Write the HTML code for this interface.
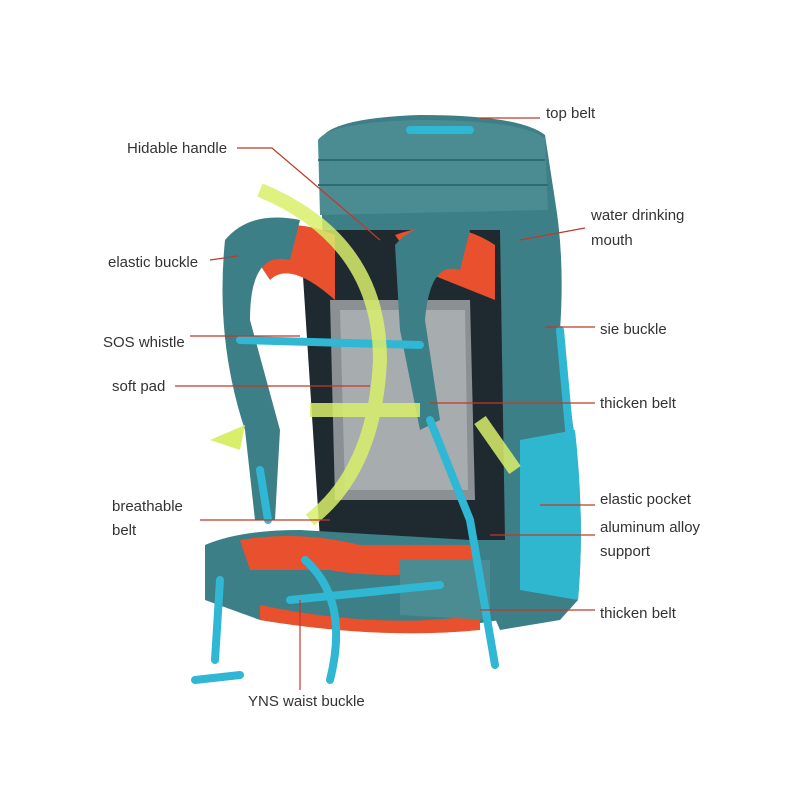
<!DOCTYPE html>
<html><head><meta charset="utf-8"><style>
html,body{margin:0;padding:0;background:#fff}
svg{display:block}
text{font-family:"Liberation Sans",sans-serif;font-size:15px;fill:#333}
</style></head><body>
<svg width="800" height="800" viewBox="0 0 800 800">
<rect width="800" height="800" fill="#fff"/>
<!-- main body -->
<path d="M320 140 Q330 118 420 115 Q520 115 545 135 L555 200 Q565 260 560 330 L575 440 Q585 520 578 600 L560 620 L500 630 L470 560 L330 520 Z" fill="#3d7f86"/>
<path d="M318 140 Q330 122 420 120 Q520 120 545 138 L548 210 L320 215 Z" fill="#4a8c92"/>
<path d="M318 160 L545 160 M318 185 L548 185" stroke="#2f6c72" stroke-width="2"/>
<!-- back panel dark -->
<path d="M300 230 L500 230 L505 540 L320 540 Z" fill="#1f2a30"/>
<!-- orange shoulder padding -->
<path d="M240 235 Q290 215 335 235 L335 300 Q290 260 270 280 Z" fill="#e8502e"/>
<path d="M395 235 Q450 215 495 245 L495 300 L420 270 Z" fill="#e8502e"/>
<!-- mesh -->
<path d="M330 300 L470 300 L475 500 L335 500 Z" fill="#8a9094"/>
<path d="M340 310 L465 310 L468 490 L345 490 Z" fill="#a7acaf"/>
<!-- left shoulder strap -->
<path d="M225 240 Q250 210 300 220 L290 260 Q250 250 250 320 L280 430 L275 520 L255 520 L245 430 Q215 340 225 240 Z" fill="#3d7f86"/>
<!-- right shoulder strap -->
<path d="M395 245 Q420 215 470 230 L460 270 Q430 260 425 320 L440 420 L420 430 L400 330 Z" fill="#3d7f86"/>
<!-- side pocket -->
<path d="M520 440 L575 430 Q585 520 578 600 L520 590 Z" fill="#2fb7cf"/>
<!-- hip belt -->
<path d="M205 545 Q240 530 300 530 L470 540 L500 560 L500 620 Q380 640 260 620 L205 600 Z" fill="#3d7f86"/>
<path d="M240 540 Q300 530 360 545 L470 545 L480 570 Q380 580 330 570 L250 570 Z" fill="#e8502e"/>
<path d="M260 605 Q380 630 480 615 L480 630 Q380 640 260 620 Z" fill="#e8502e"/>
<path d="M400 560 L490 560 L490 620 L400 615 Z" fill="#4a8c92"/>
<!-- light blue straps -->
<g stroke="#2fb7d3" stroke-width="8" fill="none" stroke-linecap="round">
<path d="M240 340 L420 345"/>
<path d="M305 560 Q350 600 330 680 M290 600 L440 585"/>
<path d="M220 580 L215 660 M195 680 L240 675"/>
<path d="M430 420 L470 520 L495 665"/>
<path d="M410 130 L470 130"/>
<path d="M260 470 L268 520"/>
<path d="M560 330 L570 440"/>
</g>
<!-- green arrows -->
<g stroke="#d9ef6b" stroke-width="14" fill="none" opacity="0.85">
<path d="M260 190 Q380 240 380 360 Q375 470 310 520"/>
<path d="M310 410 L420 410"/>
<path d="M480 420 L515 470"/>
</g>
<path d="M210 440 L245 425 L240 450 Z" fill="#d9ef6b"/>
<!-- lines -->
<g stroke="#c0392b" stroke-width="1.2" fill="none">
<path d="M480 118 L540 118"/>
<path d="M237 148 L272 148 L380 240"/>
<path d="M520 240 L585 228"/>
<path d="M210 260 L238 256"/>
<path d="M190 336 L300 336"/>
<path d="M545 327 L595 327"/>
<path d="M175 386 L370 386"/>
<path d="M430 403 L595 403"/>
<path d="M200 520 L330 520"/>
<path d="M540 505 L595 505"/>
<path d="M490 535 L595 535"/>
<path d="M480 610 L595 610"/>
<path d="M300 690 L300 600"/>
</g>
<text x="546" y="118">top belt</text>
<text x="127" y="153">Hidable handle</text>
<text x="591" y="220">water drinking</text>
<text x="591" y="245">mouth</text>
<text x="108" y="267">elastic buckle</text>
<text x="103" y="347">SOS whistle</text>
<text x="600" y="334">sie buckle</text>
<text x="112" y="391">soft pad</text>
<text x="600" y="408">thicken belt</text>
<text x="112" y="511">breathable</text>
<text x="112" y="535">belt</text>
<text x="600" y="504">elastic pocket</text>
<text x="600" y="532">aluminum alloy</text>
<text x="600" y="556">support</text>
<text x="600" y="618">thicken belt</text>
<text x="248" y="706">YNS waist buckle</text>
</svg>
</body></html>
